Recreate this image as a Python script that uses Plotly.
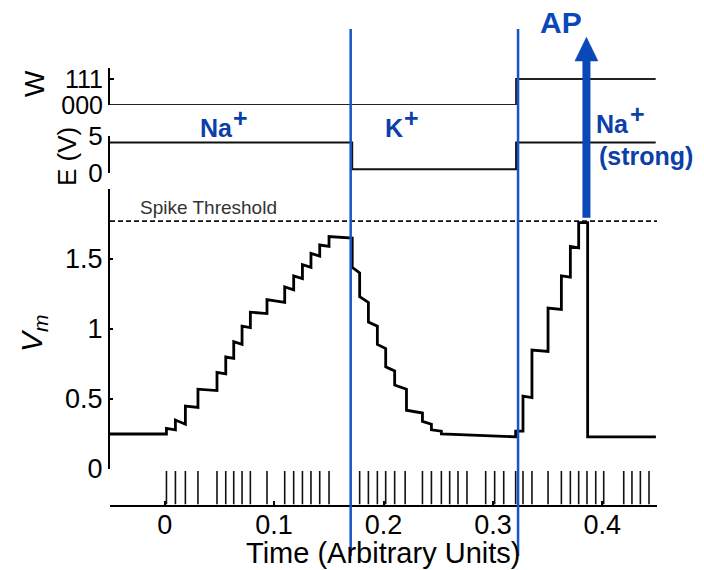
import plotly.graph_objects as go

# the page body adds an 8 px margin; the figure fills the rest of the 704x570 window
PAGE_OFF = 8
FIG_W, FIG_H = 704 - PAGE_OFF, 570 - PAGE_OFF

# ---------------- data ----------------
# input spike times (arbitrary units)
spike_times = [0.0016, 0.0098, 0.0189, 0.0304, 0.0478, 0.0558, 0.0631, 0.0707, 0.0783, 0.0935,
               0.1097, 0.1179, 0.1259, 0.1337, 0.1417, 0.1502, 0.1782, 0.1862, 0.1944, 0.2020,
               0.2102, 0.2198, 0.2356, 0.2438, 0.2529, 0.2605, 0.2681, 0.2763, 0.2934, 0.3016,
               0.3099, 0.3208, 0.3275, 0.3357, 0.3504, 0.3626, 0.3708, 0.3784, 0.3860, 0.3940,
               0.4013, 0.4196, 0.4271, 0.4348, 0.4427]

# membrane potential: piecewise segments (start time, value at start, value at end)
vm_seg_start = [-0.05, 0.0016, 0.0098, 0.0189, 0.0304, 0.0478, 0.0558, 0.0631, 0.0707, 0.0783,
                0.0935, 0.1097, 0.1179, 0.1259, 0.1337, 0.1417, 0.1502,
                0.1714, 0.1782, 0.1862, 0.1944, 0.2020, 0.2102, 0.2210, 0.2356, 0.2438, 0.2529,
                0.3208, 0.3275, 0.3357, 0.3504, 0.3626, 0.3708, 0.3784, 0.3866]
vm_seg_v0 = [0.25, 0.29, 0.35, 0.45, 0.57, 0.69, 0.80, 0.91, 1.02, 1.12,
             1.21, 1.30, 1.38, 1.46, 1.54, 1.60, 1.66,
             1.44, 1.23, 1.05, 0.89, 0.73, 0.60, 0.42, 0.34, 0.28, 0.25,
             0.27, 0.52, 0.85, 1.15, 1.38, 1.59, 1.76, 0.23]
vm_seg_v1 = [0.25, 0.28, 0.32, 0.44, 0.56, 0.68, 0.79, 0.89, 1.01, 1.11,
             1.19, 1.28, 1.36, 1.44, 1.52, 1.59, 1.65,
             1.40, 1.19, 1.02, 0.86, 0.70, 0.57, 0.40, 0.32, 0.27, 0.23,
             0.27, 0.51, 0.84, 1.14, 1.37, 1.58, 1.76, 0.23]
vm_end_time = 0.449

spike_threshold = 1.77
ap_time = 0.3855

# weight code W and reversal potential E (step functions)
w_times = [-0.05, 0.3212, 0.4488]
w_codes = [0, 1, 1]
w_tickvals = [0, 1]
w_ticklabels = ["000", "111"]

e_times = [-0.05, 0.1714, 0.3212, 0.4488]
e_vals = [4.1, 0.5, 4.1, 4.1]

channel_switch_times = [0.170, 0.323]

x_tickvals = [0, 0.1, 0.2, 0.3, 0.4]
x_ticklabels = ["0", "0.1", "0.2", "0.3", "0.4"]
vm_tickvals = [0, 0.5, 1, 1.5]
vm_ticklabels = ["0", "0.5", "1", "1.5"]

# ---------------- helpers (window pixels -> paper fractions) ----------------
def px(x):
    return (x - PAGE_OFF) / FIG_W

def py(y):
    return 1 - (y - PAGE_OFF) / FIG_H

FONT = "Liberation Sans, Arial, sans-serif"
BLUE_LINE = "#1656C4"
BLUE_TEXT = "#0C3FA8"
BLUE_ARROW = "#0A48BA"
DARK = "#111111"

X_LEFT, X_RIGHT = 110, 657          # plot area edges (window px)
X_RANGE = [-0.05, 0.45]
DATA_PER_PX = (X_RANGE[1] - X_RANGE[0]) / (X_RIGHT - X_LEFT)

# ---------------- build traces ----------------
vm_t, vm_v = [], []
for i, t0 in enumerate(vm_seg_start):
    t1 = vm_seg_start[i + 1] if i + 1 < len(vm_seg_start) else vm_end_time
    vm_t += [t0, t1]
    vm_v += [vm_seg_v0[i], vm_seg_v1[i]]

rx, ry = [], []
for t in spike_times:
    rx += [t, t, None]
    ry += [0, 1, None]

fig = go.Figure()
fig.add_trace(go.Scatter(x=rx, y=ry, mode="lines", line=dict(color=DARK, width=1.6),
                         xaxis="x", yaxis="y", hoverinfo="skip"))
fig.add_trace(go.Scatter(x=X_RANGE, y=[spike_threshold, spike_threshold], mode="lines",
                         line=dict(color=DARK, width=1.8, dash="5px,3px"),
                         xaxis="x", yaxis="y2", hoverinfo="skip"))
fig.add_trace(go.Scatter(x=vm_t, y=vm_v, mode="lines", line=dict(color="#000000", width=2.8),
                         xaxis="x", yaxis="y2"))
fig.add_trace(go.Scatter(x=e_times, y=e_vals, mode="lines", line=dict(color=DARK, width=2, shape="hv"),
                         xaxis="x", yaxis="y3"))
fig.add_trace(go.Scatter(x=w_times, y=w_codes, mode="lines", line=dict(color="#222222", width=2, shape="hv"),
                         xaxis="x", yaxis="y4"))

tick_font = dict(family=FONT, size=27, color="#000000")

fig.update_layout(
    width=FIG_W, height=FIG_H,
    margin=dict(l=0, r=0, t=0, b=0),
    paper_bgcolor="white", plot_bgcolor="white",
    showlegend=False,
    xaxis=dict(domain=[px(X_LEFT), px(X_RIGHT)], range=X_RANGE, anchor="y",
               showline=True, linecolor="#000000", linewidth=2, showgrid=False, zeroline=False,
               tickmode="array", tickvals=x_tickvals, ticktext=x_ticklabels,
               ticks="inside", ticklen=4, tickwidth=2, tickcolor="#000000",
               tickfont=tick_font, ticklabelstandoff=-5, automargin=False),
    yaxis=dict(domain=[py(504.5), py(471)], range=[0, 1], anchor="x", visible=False, fixedrange=True),
    yaxis2=dict(domain=[py(469), py(189)], range=[0, 2], anchor="x",
                showline=True, linecolor="#000000", linewidth=2, showgrid=False, zeroline=False,
                tickmode="array", tickvals=vm_tickvals, ticktext=vm_ticklabels,
                ticks="inside", ticklen=3, tickwidth=1.5, tickcolor="#000000",
                tickfont=tick_font, automargin=False),
    yaxis3=dict(domain=[py(173), py(135.7)], range=[0, 5], anchor="x",
                showline=True, linecolor="#000000", linewidth=2, showgrid=False, zeroline=False,
                tickmode="array", tickvals=[0, 5], ticktext=["0", "5"],
                ticks="inside", ticklen=4, tickwidth=1.5, tickcolor="#000000",
                tickfont=dict(family=FONT, size=26, color="#000000"), automargin=False),
    yaxis4=dict(domain=[py(105), py(67.7)], range=[0, 1.43], anchor="x",
                showline=True, linecolor="#000000", linewidth=2, showgrid=False, zeroline=False,
                tickmode="array", tickvals=w_tickvals, ticktext=w_ticklabels,
                ticks="inside", ticklen=4, tickwidth=1.5, tickcolor="#000000",
                tickfont=dict(family=FONT, size=25, color="#000000"), automargin=False),
)

# blue vertical separators
for t in channel_switch_times:
    fig.add_shape(type="line", xref="x", yref="paper", x0=t, x1=t, y0=py(556), y1=py(29),
                  line=dict(color=BLUE_LINE, width=2.5))

# AP arrow (shaft from the threshold up, triangular head)
thr_px = 469 - 140 * spike_threshold           # window px of threshold on the Vm axis
head_half = 11.5 * DATA_PER_PX
fig.add_shape(type="line", xref="x", yref="paper", x0=ap_time, x1=ap_time,
              y0=py(thr_px - 3.5), y1=py(58), line=dict(color=BLUE_ARROW, width=8))
fig.add_shape(type="path", xref="x", yref="paper",
              path=f"M {ap_time - head_half},{py(61)} L {ap_time + head_half},{py(61)} "
                   f"L {ap_time},{py(37.3)} Z",
              fillcolor=BLUE_ARROW, line=dict(color=BLUE_ARROW, width=0.5))

annotations = []

def label(text, x, y, size, color=BLUE_TEXT, angle=0, xanchor="center"):
    annotations.append(dict(xref="paper", yref="paper", x=px(x), y=py(y), text=text,
                            showarrow=False, xanchor=xanchor, yanchor="middle", textangle=angle,
                            font=dict(family=FONT, size=size, color=color)))

label("<b>AP</b>", 561, 22, 30, BLUE_ARROW)
label("<b>Na</b>", 216, 128, 25)
label("<b>+</b>", 240.5, 117.5, 25)
label("<b>K</b>", 394, 128, 25)
label("<b>+</b>", 411.5, 117.5, 25)
label("<b>Na</b>", 612.5, 124, 25)
label("<b>+</b>", 637.5, 114.5, 25)
label("<b>(strong)</b>", 646, 156.5, 25)

label("Spike Threshold", 138, 207.5, 19, color="#333333", xanchor="left")
label("Time (Arbitrary Units)", 383, 553, 29, color="#000000")
label("W", 34, 84, 28, color="#000000", angle=-90)
label("E (V)", 67, 156, 26, color="#000000", angle=-90)
label("<i>V<sub>m</sub></i>", 33, 333, 30, color="#000000", angle=-90)

fig.update_layout(annotations=annotations)

fig.write_html("out.html")
